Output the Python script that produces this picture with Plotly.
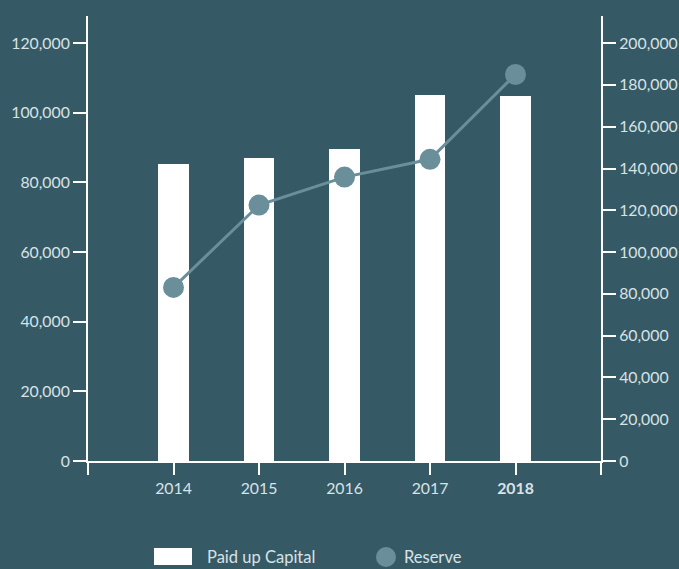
import plotly.graph_objects as go

# Data
years = [2014, 2015, 2016, 2017, 2018]
year_labels = ["2014", "2015", "2016", "2017", "<b>2018</b>"]
paid_up_capital = [85300, 87000, 89600, 105100, 104800]
reserve = [83100, 122500, 135900, 144400, 185000]

left_ticks = [0, 20000, 40000, 60000, 80000, 100000, 120000]
right_ticks = [0, 20000, 40000, 60000, 80000, 100000, 120000, 140000, 160000, 180000, 200000]

BG = "#365a65"
DOT = "#6a8f9b"
AXIS = "#ffffff"
LABEL = "#d9e2e5"
FONT = "Lato, Open Sans, sans-serif"
FS = 15.8
LEG_FS = 16.5

fig = go.Figure()

fig.add_trace(go.Bar(
    x=years, y=paid_up_capital, name="Paid up Capital",
    marker=dict(color="#ffffff", line=dict(width=0)),
    width=0.36, yaxis="y", showlegend=False,
))

fig.add_trace(go.Scatter(
    x=years, y=reserve, name="Reserve", mode="lines+markers",
    line=dict(color=DOT, width=3),
    marker=dict(color=DOT, size=21, line=dict(width=0)),
    yaxis="y2", showlegend=False,
))

left_max = 127800
right_max = left_max * 200000 / 120000

axis_common = dict(
    showgrid=False, zeroline=False, showline=True, linecolor=AXIS, linewidth=2,
    ticks="outside", tickcolor=AXIS, tickwidth=2, ticklen=13, automargin=False,
    tickfont=dict(family=FONT, size=FS, color=LABEL),
)

fig.update_layout(
    width=679, height=569,
    paper_bgcolor=BG, plot_bgcolor=BG,
    margin=dict(l=88, r=78, t=16, b=108),
    font=dict(family=FONT, color=LABEL),
    bargap=0,
    xaxis=dict(
        range=[2013, 2019], tickvals=[2013] + years + [2019],
        ticktext=[""] + year_labels + [""],
        showgrid=False, zeroline=False, showline=True, linecolor=AXIS, linewidth=2,
        ticks="outside", tickcolor=AXIS, tickwidth=2, ticklen=12, automargin=False,
        tickfont=dict(family=FONT, size=FS, color=LABEL),
        fixedrange=True,
    ),
    yaxis=dict(
        range=[0, left_max], tickvals=left_ticks,
        tickformat=",d", **axis_common,
    ),
    yaxis2=dict(
        range=[0, right_max], tickvals=right_ticks, tickformat=",d",
        overlaying="y", side="right", **axis_common,
    ),
)

# Legend drawn below the plot
fig.add_shape(type="rect", xref="paper", yref="paper",
              x0=(154 - 88) / 513, x1=(192 - 88) / 513,
              y0=-(565 - 461) / 445, y1=-(548 - 461) / 445,
              fillcolor="#ffffff", line=dict(width=0))
fig.add_annotation(text="Paid up Capital", xref="paper", yref="paper",
                   x=(205 - 88) / 513, y=-(557 - 461) / 445,
                   xanchor="left", yanchor="middle", showarrow=False,
                   font=dict(family=FONT, size=LEG_FS, color=LABEL))
fig.add_shape(type="circle", xref="paper", yref="paper",
              x0=(376 - 88) / 513, x1=(396 - 88) / 513,
              y0=-(567 - 461) / 445, y1=-(547 - 461) / 445,
              fillcolor=DOT, line=dict(width=0))
fig.add_annotation(text="Reserve", xref="paper", yref="paper",
                   x=(402 - 88) / 513, y=-(557 - 461) / 445,
                   xanchor="left", yanchor="middle", showarrow=False,
                   font=dict(family=FONT, size=LEG_FS, color=LABEL))

fig.write_html("out.html", config={"displayModeBar": False})
